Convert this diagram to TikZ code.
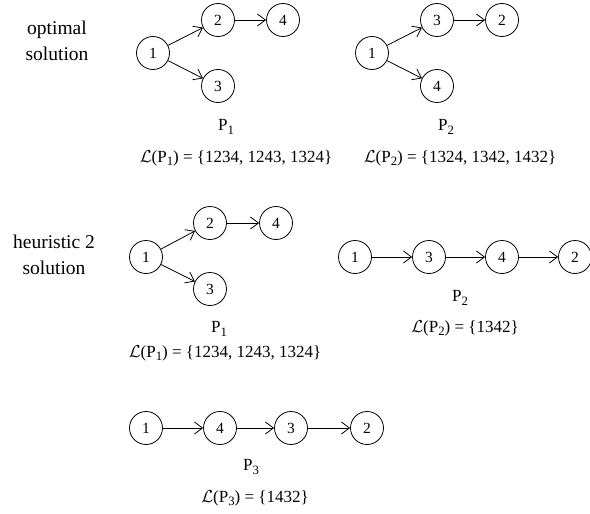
\documentclass[tikz,border=0pt]{standalone}
\usepackage{fontspec}
\setmainfont{Liberation Serif}
\usetikzlibrary{arrows.meta}
\newcommand\mysub[1]{\raisebox{-0.45ex}{\scalebox{0.75}{#1}}}
\newcommand\calL{\(\mathcal{L}\)}
\begin{document}
\begin{tikzpicture}[x=1pt,y=-1pt,
  vtx/.style={draw,circle,minimum size=33pt,inner sep=0pt,line width=0.8pt,font=\fontsize{15.5}{15}\selectfont},
  edge/.style={-{Straight Barb[length=8pt,width=12pt]},line width=0.8pt},
  lab/.style={font=\fontsize{17}{19}\selectfont,inner sep=0pt},
  side/.style={font=\fontsize{19.5}{26}\selectfont,align=center,inner sep=0pt}]
\useasboundingbox (0,0) rectangle (590,514);
% side labels
\node[side] (t1) at (57,41) {optimal\\solution};
\node[side] (t2) at (54,255) {heuristic 2\\solution};
% optimal P1
\node[vtx] (a1) at (153,53) {1};
\node[vtx] (a2) at (218,20) {2};
\node[vtx] (a4) at (283,20) {4};
\node[vtx] (a3) at (218,86) {3};
\draw[edge] (a1) -- (a2);
\draw[edge] (a2) -- (a4);
\draw[edge] (a1) -- (a3);
\node[lab] (ap) at (226,127) {P\mysub{1}};
\node[lab] (al) at (236,158) {\calL(P\mysub{1}) = \{1234, 1243, 1324\}};
% optimal P2
\node[vtx] (b1) at (372,53) {1};
\node[vtx] (b3) at (437,20) {3};
\node[vtx] (b2) at (502,20) {2};
\node[vtx] (b4) at (437,86) {4};
\draw[edge] (b1) -- (b3);
\draw[edge] (b3) -- (b2);
\draw[edge] (b1) -- (b4);
\node[lab] (bp) at (446,127) {P\mysub{2}};
\node[lab] (bl) at (460,158) {\calL(P\mysub{2}) = \{1324, 1342, 1432\}};
% heuristic P1
\node[vtx] (c1) at (146,257) {1};
\node[vtx] (c2) at (210,223) {2};
\node[vtx] (c4) at (276,223) {4};
\node[vtx] (c3) at (210,289) {3};
\draw[edge] (c1) -- (c2);
\draw[edge] (c2) -- (c4);
\draw[edge] (c1) -- (c3);
\node[lab] (cp) at (219,329) {P\mysub{1}};
\node[lab] (cl) at (225,353) {\calL(P\mysub{1}) = \{1234, 1243, 1324\}};
% heuristic P2
\node[vtx] (d1) at (355,257) {1};
\node[vtx] (d3) at (429,257) {3};
\node[vtx] (d4) at (502,257) {4};
\node[vtx] (d2) at (575,257) {2};
\draw[edge] (d1) -- (d3);
\draw[edge] (d3) -- (d4);
\draw[edge] (d4) -- (d2);
\node[lab] (dp) at (460,298) {P\mysub{2}};
\node[lab] (dl) at (465,328) {\calL(P\mysub{2}) = \{1342\}};
% heuristic P3
\node[vtx] (e1) at (146,428) {1};
\node[vtx] (e4) at (220,428) {4};
\node[vtx] (e3) at (291,428) {3};
\node[vtx] (e2) at (367,428) {2};
\draw[edge] (e1) -- (e4);
\draw[edge] (e4) -- (e3);
\draw[edge] (e3) -- (e2);
\node[lab] (ep) at (251,467) {P\mysub{3}};
\node[lab] (el) at (255,498) {\calL(P\mysub{3}) = \{1432\}};
\end{tikzpicture}
\end{document}
